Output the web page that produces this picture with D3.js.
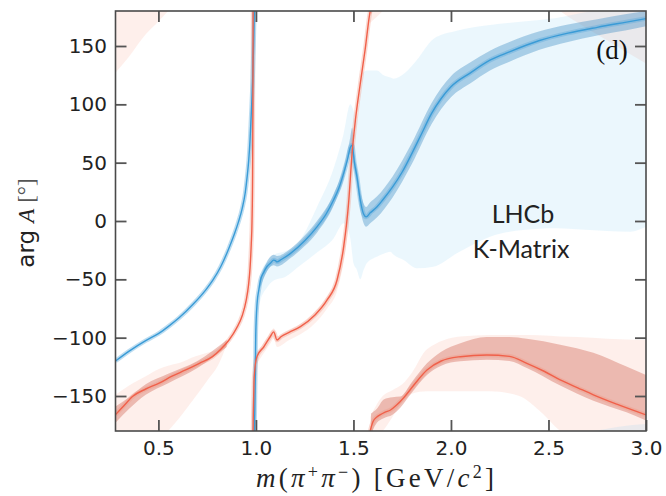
<!DOCTYPE html>
<html><head><meta charset="utf-8">
<script src="https://cdn.jsdelivr.net/npm/d3@7"></script>
<style>html,body{margin:0;padding:0;background:#fff;} svg{display:block;}</style>
</head><body>
<svg id="chart" width="666" height="496"></svg>
<script>
// ---- tick values ----
const xTicks = [0.5, 1.0, 1.5, 2.0, 2.5, 3.0];
const yTicks = [-150, -100, -50, 0, 50, 100, 150];

// ---- phases (degrees, continued across the ±180 wrap; the plot folds them back) ----
// blue amplitude: [m, phase]
const blueLine = [[0.28,-120],[0.35,-111.5],[0.435,-102.5],[0.5,-96.5],[0.55,-90.5],[0.606,-83],[0.68,-71],[0.743,-59],[0.78,-50.5],[0.82,-39],[0.86,-24],[0.89,-11],[0.91,-1],[0.93,11],[0.945,24],[0.955,38],[0.963,52],[0.97,70],[0.977,95],[0.983,120],[0.988,150],[0.992,180],[0.994,195],[0.997,230],[0.999,262],[1.006,289.5],[1.015,301],[1.023,309],[1.04,316],[1.057,321],[1.075,324],[1.091,326.5],[1.1,326],[1.108,325],[1.13,327],[1.176,332],[1.25,343],[1.313,355],[1.36,366],[1.398,378],[1.425,388],[1.45,401],[1.47,413],[1.484,423],[1.493,425],[1.505,410],[1.518,398],[1.535,378],[1.552,366],[1.565,363.5],[1.586,367],[1.62,372],[1.65,378],[1.7,389],[1.75,402],[1.8,418],[1.85,435],[1.9,452],[1.95,465],[2.0,475],[2.1,487],[2.2,497.8],[2.3,505],[2.45,514.5],[2.6,521],[2.75,526],[2.9,530.5],[3.0,533.5]];
// blue inner (stat.) band: [m, low, high]
const blueInner = [[1.02,302,310],[1.057,317,325],[1.091,322,331],[1.108,321,330],[1.176,328,336],[1.25,338.5,347.5],[1.313,350,360],[1.398,373,383],[1.45,396,406],[1.484,418,432],[1.493,418,440],[1.505,404,418],[1.518,391,405],[1.535,370,386],[1.552,358,375],[1.565,355,372],[1.586,358,376],[1.62,363,381],[1.7,380,398],[1.8,409,427],[1.9,443,461],[2.0,466,484],[2.1,478,496],[2.2,489,506],[2.3,496.5,513.5],[2.45,506.5,522.5],[2.6,513.5,528.5],[2.75,519,533],[2.9,523.5,537.5],[3.0,527,540]];
// blue outer (model) band: [m, low, high]
const blueOuter = [[1.0,250,268],[1.02,290,312],[1.057,303,326],[1.091,309,331],[1.15,312,334],[1.228,322,344],[1.313,333,372],[1.398,345,405],[1.45,358,435],[1.484,345,460],[1.5,324,455],[1.518,318,446],[1.535,310,470],[1.552,318,487.7],[1.569,324,489],[1.62,329.4,489],[1.655,332,485],[1.689,333.6,483],[1.706,331,482],[1.757,326.5,486],[1.825,319.4,498],[1.91,320.8,516],[2.03,332.3,523],[2.116,340,526],[2.2,346.5,528],[2.37,352.2,531],[2.54,353.7,534],[2.71,352.2,539.5],[2.8,351.5,542],[2.92,350.8,545],[3.0,355,546]];

// red amplitude: [m, phase]
const redLine = [[0.28,-166],[0.33,-157],[0.367,-150.5],[0.435,-144],[0.504,-139],[0.57,-133],[0.64,-127.7],[0.71,-122],[0.777,-116.3],[0.82,-110],[0.862,-102],[0.9,-92],[0.93,-81],[0.95,-68],[0.962,-55],[0.97,-40],[0.976,-20],[0.98,0],[0.983,40],[0.9845,100],[0.9855,180],[0.987,198],[0.99,222],[0.994,232],[0.997,237],[1.006,244],[1.04,252],[1.074,261],[1.091,265],[1.108,258],[1.13,261],[1.17,264.5],[1.228,269.4],[1.3,279],[1.365,292.3],[1.416,309.4],[1.45,338],[1.475,375],[1.493,418],[1.51,446.4],[1.535,477.8],[1.56,507],[1.586,540],[1.6,548],[1.62,552],[1.638,554],[1.66,556],[1.69,558],[1.72,562],[1.76,569],[1.808,579],[1.877,592.3],[1.95,600],[2.048,603.7],[2.184,605.2],[2.3,604],[2.389,598],[2.48,591],[2.56,583.8],[2.65,577],[2.73,571],[2.85,563],[3.0,553.8]];
// red inner bands: [m, low, high]
const redInnerLow = [[0.28,-173,-159],[0.35,-161,-151],[0.435,-149,-140],[0.55,-139,-131],[0.7,-126,-120],[0.85,-108,-102]];
const redInnerHigh = [[1.59,537,555],[1.62,547,559],[1.655,551,567],[1.7,554,569],[1.74,560,569.5],[1.8,573,582],[1.877,588,598],[1.95,596,608],[2.048,599.7,615.2],[2.184,601,620.5],[2.3,600,620.5],[2.389,594,619],[2.56,579,614],[2.73,566,607],[2.9,556,595.2],[3.0,549,588]];
// red outer bands: [m, low, high]
const redOuterLow = [[0.28,-233,-149],[0.35,-219,-141],[0.435,-200,-133],[0.5,-189,-127],[0.55,-180,-124],[0.606,-169,-121.7],[0.691,-150.5,-116],[0.75,-137,-113],[0.811,-122,-109],[0.85,-106,-101]];
const redOuterMid = [[1.006,238,247],[1.074,255,264],[1.091,259,268],[1.108,252,261],[1.17,258,267],[1.228,263,272],[1.3,272,282],[1.365,285,295],[1.416,300,313],[1.45,325,345],[1.475,355,390]];
const redOuterHigh = [[1.586,530,552],[1.62,535,563],[1.65,540,570],[1.7,552,575],[1.75,565,580],[1.8,572,590],[1.877,574,610],[2.048,574,621],[2.2,574,622.3],[2.35,570,622.3],[2.45,558,622],[2.56,540,621],[2.65,530,620.5],[2.8,515,619],[3.0,495,618]];

// ---- layout ----
const M = {left:115.5, right:646, top:11, bottom:431};
const x = d3.scaleLinear().domain([0.28, 3.0]).range([M.left, M.right]);
const y = d3.scaleLinear().domain([-180, 180]).range([M.bottom, M.top]);
const svg = d3.select('#chart');
svg.append('defs').append('clipPath').attr('id','clip').append('rect')
  .attr('x',M.left).attr('y',M.top).attr('width',M.right-M.left).attr('height',M.bottom-M.top);
const plot = svg.append('g').attr('clip-path','url(#clip)');
const wraps = [-720,-360,0,360];

function band(data, fill, op){
  wraps.forEach(k=>{
    plot.append('path').datum(data)
      .attr('d', d3.area().x(d=>x(d[0])).y0(d=>y(d[1]+k)).y1(d=>y(d[2]+k)).curve(d3.curveMonotoneX))
      .attr('fill', fill).attr('fill-opacity', op).attr('stroke','none');
  });
}
function curve(data, stroke, w, op){
  wraps.forEach(k=>{
    plot.append('path').datum(data)
      .attr('d', d3.line().x(d=>x(d[0])).y(d=>y(d[1]+k)).curve(d3.curveMonotoneX))
      .attr('fill','none').attr('stroke', stroke).attr('stroke-width', w).attr('stroke-opacity', op)
      .attr('stroke-linejoin','round');
  });
}

// outer bands
band(redOuterLow, 'rgb(250,140,115)', 0.14);
band(redOuterMid, 'rgb(250,140,115)', 0.14);
band(redOuterHigh, 'rgb(250,140,115)', 0.14);
band(blueOuter, 'rgb(135,206,245)', 0.17);
// inner bands
band(redInnerLow, 'rgb(214,120,105)', 0.45);
band(redInnerHigh, 'rgb(214,120,105)', 0.45);
band(blueInner, 'rgb(60,140,195)', 0.38);
// halos for narrow bands
curve(redLine, 'rgb(240,150,130)', 4.5, 0.35);
curve(blueLine, 'rgb(90,170,220)', 4.5, 0.4);
// central lines
curve(blueLine, '#3a9bd6', 1.4, 1);
curve(redLine, '#f0604a', 1.4, 1);

// ---- axes ----
const fontTick = '"DejaVu Sans", sans-serif';
function styleAxis(g){
  g.select('.domain').remove();
  g.selectAll('.tick line').attr('stroke','#555').attr('stroke-width',1.8);
  g.selectAll('.tick text').attr('fill','#222').style('font-family',fontTick).style('font-size','20px');
}
svg.append('g').attr('transform',`translate(0,${M.bottom})`)
  .call(d3.axisBottom(x).tickValues(xTicks).tickFormat(d3.format('.1f')).tickSize(-11).tickSizeOuter(0).tickPadding(9.5))
  .call(styleAxis);
svg.append('g').attr('transform',`translate(0,${M.top})`)
  .call(d3.axisTop(x).tickValues(xTicks.filter(v=>v<3)).tickFormat('').tickSize(-11).tickSizeOuter(0))
  .call(styleAxis);
svg.append('g').attr('transform',`translate(${M.left},0)`)
  .call(d3.axisLeft(y).tickValues(yTicks).tickFormat(d3.format('d')).tickSize(-11).tickSizeOuter(0).tickPadding(8.5))
  .call(styleAxis);
svg.append('g').attr('transform',`translate(${M.right},0)`)
  .call(d3.axisRight(y).tickValues(yTicks).tickFormat('').tickSize(-11).tickSizeOuter(0))
  .call(styleAxis);
svg.append('rect').attr('x',M.left).attr('y',M.top).attr('width',M.right-M.left).attr('height',M.bottom-M.top)
  .attr('fill','none').attr('stroke','#4a4a4a').attr('stroke-width',1.6);

// ---- labels ----
const yl = svg.append('text').attr('transform','translate(34,223) rotate(-90)')
  .attr('text-anchor','middle').attr('fill','#222').style('font-size','23px');
yl.append('tspan').style('font-family',fontTick).text('arg ');
yl.append('tspan').style('font-family','"Liberation Serif", serif').style('font-style','italic').text('A');
yl.append('tspan').style('font-family','"Liberation Serif", serif').attr('fill','#555').text(' [°]');

const xl = svg.append('text').attr('x',375).attr('y',487).attr('text-anchor','middle')
  .attr('textLength',238).attr('lengthAdjust','spacing')
  .attr('fill','#222').style('font-family','"Liberation Serif", serif').style('font-size','27px');
xl.append('tspan').style('font-style','italic').text('m');
xl.append('tspan').text('(');
xl.append('tspan').style('font-style','italic').text('π');
xl.append('tspan').attr('dy',-9).style('font-size','18px').text('+');
xl.append('tspan').attr('dy',9).style('font-style','italic').text('π');
xl.append('tspan').attr('dy',-9).style('font-size','18px').text('−');
xl.append('tspan').attr('dy',9).text(')  [GeV/');
xl.append('tspan').style('font-style','italic').text('c');
xl.append('tspan').attr('dy',-9).style('font-size','18px').text('2');
xl.append('tspan').attr('dy',9).text(']');

svg.append('text').attr('x',612).attr('y',59).attr('text-anchor','middle').attr('fill','#111')
  .style('font-family','"Liberation Serif", serif').style('font-size','27px').text('(d)');
svg.append('text').attr('x',523).attr('y',223).attr('text-anchor','middle').attr('fill','#222')
  .style('font-family','Lato, sans-serif').style('font-size','25px').text('LHCb');
svg.append('text').attr('x',521).attr('y',258).attr('text-anchor','middle').attr('fill','#222')
  .style('font-family','Lato, sans-serif').style('font-size','25px').text('K-Matrix');
</script>
</body></html>
